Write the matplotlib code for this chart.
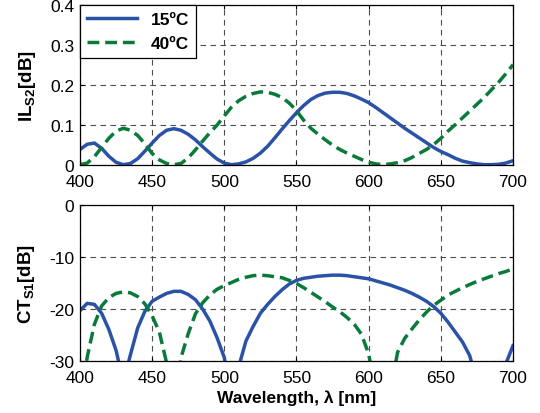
import matplotlib
matplotlib.use("Agg")
import matplotlib.pyplot as plt

plt.rcParams['font.family'] = ['Liberation Sans', 'DejaVu Sans']
plt.rcParams['mathtext.fontset'] = 'custom'
plt.rcParams['mathtext.rm'] = 'Liberation Sans'
plt.rcParams['mathtext.bf'] = 'Liberation Sans:bold'
plt.rcParams['axes.unicode_minus'] = False

# Wellenlaenge in nm (5 nm Raster)
wellenlaenge = list(range(400, 701, 5))

# Einfuegedaempfung IL_S2 [dB]
il_15 = [0.038, 0.051, 0.054, 0.041, 0.021, 0.006, 0.000, 0.003, 0.015, 0.034,
         0.054, 0.073, 0.086, 0.090, 0.086, 0.076, 0.062, 0.045, 0.029, 0.014,
         0.004, 0.000, 0.002, 0.007, 0.016, 0.029, 0.046, 0.067, 0.089, 0.110,
         0.130, 0.148, 0.163, 0.173, 0.179, 0.181, 0.181, 0.178, 0.172, 0.164,
         0.155, 0.143, 0.130, 0.117, 0.104, 0.091, 0.079, 0.067, 0.055, 0.043,
         0.033, 0.025, 0.016, 0.009, 0.005, 0.002, 0.000, 0.000, 0.001, 0.004,
         0.010]
il_40 = [0.000, 0.004, 0.020, 0.043, 0.066, 0.084, 0.091, 0.086, 0.073, 0.052,
         0.028, 0.012, 0.003, 0.000, 0.003, 0.017, 0.037, 0.059, 0.080, 0.099,
         0.122, 0.144, 0.160, 0.171, 0.178, 0.182, 0.181, 0.176, 0.168, 0.154,
         0.135, 0.111, 0.091, 0.076, 0.062, 0.049, 0.038, 0.029, 0.021, 0.013,
         0.006, 0.002, 0.000, 0.002, 0.005, 0.010, 0.018, 0.028, 0.038, 0.050,
         0.066, 0.084, 0.100, 0.117, 0.134, 0.151, 0.168, 0.187, 0.206, 0.227,
         0.250]

# Uebersprechen CT_S1 [dB]
ct_15 = [-20.3, -18.9, -19.1, -20.8, -23.9, -27.9, -34.0, -28.7, -23.6, -20.4,
         -18.5, -17.7, -17.0, -16.6, -16.6, -17.2, -18.2, -20.0, -22.3, -25.5,
         -29.3, -38.0, -31.0, -26.1, -23.3, -20.8, -19.1, -17.6, -16.3, -15.2,
         -14.5, -14.1, -13.9, -13.7, -13.6, -13.5, -13.5, -13.6, -13.8, -14.0,
         -14.2, -14.6, -15.0, -15.4, -15.9, -16.4, -17.0, -17.7, -18.5, -19.5,
         -20.8, -22.5, -24.4, -26.3, -28.9, -34.0, -40.0, -45.0, -38.0, -30.5,
         -27.0]
ct_40 = [-40.0, -29.2, -22.9, -19.4, -17.8, -17.0, -16.7, -16.9, -17.6, -19.0,
         -21.3, -24.4, -30.3, -40.0, -29.3, -24.7, -20.9, -18.8, -17.3, -16.2,
         -15.5, -14.9, -14.3, -13.9, -13.6, -13.5, -13.6, -13.8, -14.0, -14.5,
         -15.1, -15.9, -16.8, -17.7, -18.6, -19.6, -20.5, -21.6, -22.9, -24.8,
         -28.6, -36.0, -45.0, -36.0, -28.3, -25.6, -23.8, -22.1, -20.6, -19.3,
         -18.3, -17.3, -16.6, -15.9, -15.3, -14.7, -14.2, -13.7, -13.2, -12.8,
         -12.3]

x_ticks = [400, 450, 500, 550, 600, 650, 700]

BLAU = '#2a52a6'
GRUEN = '#0a7a3a'
LW = 2.5
STRICH = (3.4, 1.7)


def achse_formatieren(ax):
    ax.set_xlim(400, 700)
    ax.set_xticks(x_ticks)
    ax.grid(True, color='0.3', linestyle=(0, (5, 4)), linewidth=0.8)
    ax.tick_params(direction='in', length=3, top=True, right=True,
                   labelsize=12.5)
    ax.tick_params(axis='x', pad=6.5)
    ax.tick_params(axis='y', pad=4)
    for spine in ax.spines.values():
        spine.set_linewidth(0.9)


fig = plt.figure(figsize=(5.4, 4.14), dpi=100)

ax1 = fig.add_axes([0.1481, 0.5998, 0.8019, 0.3865])
ax1.plot(wellenlaenge, il_15, color=BLAU, lw=LW, label='15\u00baC')
ax1.plot(wellenlaenge, il_40, color=GRUEN, lw=LW, dashes=STRICH, label='40\u00baC')
achse_formatieren(ax1)
ax1.set_ylim(0, 0.4)
ax1.set_yticks([0, 0.1, 0.2, 0.3, 0.4])
ax1.set_yticklabels(['0', '0.1', '0.2', '0.3', '0.4'])
ax1.set_ylabel(r'$\mathbf{IL_{S2}[dB]}$', fontsize=13.5, labelpad=9)
leg = ax1.legend(loc='upper left', borderaxespad=0, fancybox=False,
                 edgecolor='black', framealpha=1, handlelength=2.9,
                 prop={'weight': 'bold', 'size': 12.5})
leg.get_frame().set_linewidth(0.9)

ax2 = fig.add_axes([0.1481, 0.1249, 0.8019, 0.3783])
ax2.plot(wellenlaenge, ct_15, color=BLAU, lw=LW)
ax2.plot(wellenlaenge, ct_40, color=GRUEN, lw=LW, dashes=STRICH)
achse_formatieren(ax2)
ax2.set_ylim(-30, 0)
ax2.set_yticks([-30, -20, -10, 0])
ax2.set_ylabel(r'$\mathbf{CT_{S1}[dB]}$', fontsize=13.5, labelpad=9)
ax2.set_xlabel('Wavelength, \u03bb [nm]', fontsize=12.5, fontweight='bold', labelpad=3)

fig.savefig('out.png', dpi=100)
